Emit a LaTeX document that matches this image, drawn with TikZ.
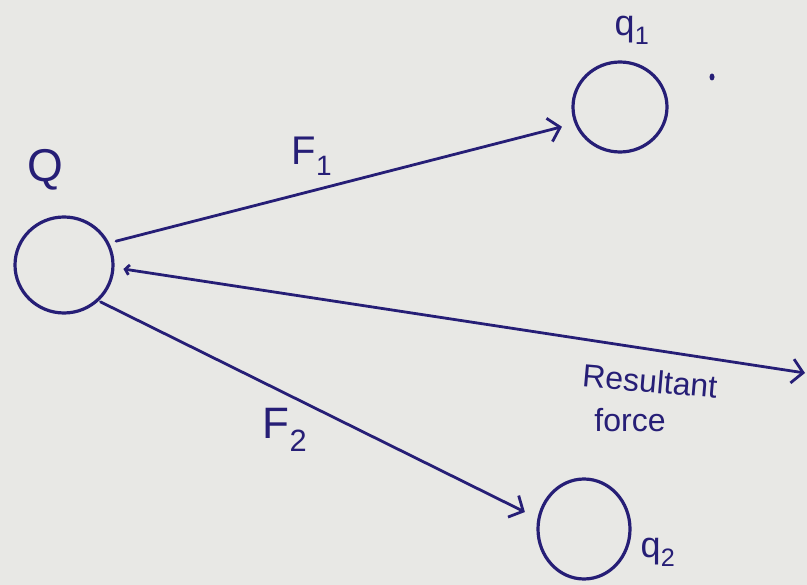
\documentclass[tikz,border=0pt]{standalone}
\usepackage{fontspec}
\setmainfont{Liberation Sans}
\usetikzlibrary{arrows.meta,shapes.geometric}
\definecolor{ink}{RGB}{38,30,118}
\definecolor{paper}{RGB}{232,232,229}
\tikzset{
  charge/.style={draw=ink, ellipse, line width=3.2pt, inner sep=0pt},
  force/.style={draw=ink, line width=2.8pt, line cap=round,
    -{Straight Barb[length=11pt,width=24pt]}},
  lbl/.style={text=ink, inner sep=0pt}
}
\begin{document}
\begin{tikzpicture}[x=1pt,y=-1pt]
\fill[paper] (0,0) rectangle (807,585);
\useasboundingbox (0,0) rectangle (807,585);
% charges
\node[charge, minimum width=98pt, minimum height=96pt] (Q) at (64,265) {};
\node[charge, minimum width=94pt, minimum height=90pt] (q1) at (620,107) {};
\node[charge, minimum width=92pt, minimum height=100pt] (q2) at (584,529) {};
% labels
\node[lbl, font=\fontsize{46}{50}\selectfont] (lQ) at (45,170) {Q};
\node[lbl, font=\fontsize{36}{40}\selectfont] (lq1) at (632,30) {q\textsubscript{1}};
\node[lbl, font=\fontsize{36}{40}\selectfont] (lq2) at (658,552) {q\textsubscript{2}};
\node[lbl, font=\fontsize{40}{44}\selectfont] (lF1) at (312,156) {F\textsubscript{1}};
\node[lbl, font=\fontsize{44}{48}\selectfont] (lF2) at (285,430) {F\textsubscript{2}};
\node[lbl, font=\fontsize{32}{36}\selectfont, rotate=-5] (lR) at (650,381) {Resultant};
\node[lbl, font=\fontsize{32}{36}\selectfont] (lf) at (630,420) {force};
% stray dot
\fill[ink] (712,77) ellipse (2.5pt and 3.5pt);
% connectors
\coordinate (rend) at (805,373);
\draw[force, shorten <=7pt, shorten >=13pt] (Q.26) -- (q1.200);
\draw[force, shorten <=2pt, shorten >=14pt] (Q.-46) -- (q2.167);
\draw[draw=ink, line width=2.8pt, line cap=round,
  {Straight Barb[length=4pt,width=10pt]}-{Straight Barb[length=11pt,width=24pt]},
  shorten <=9pt] (Q.-3) -- (rend);
\end{tikzpicture}
\end{document}
